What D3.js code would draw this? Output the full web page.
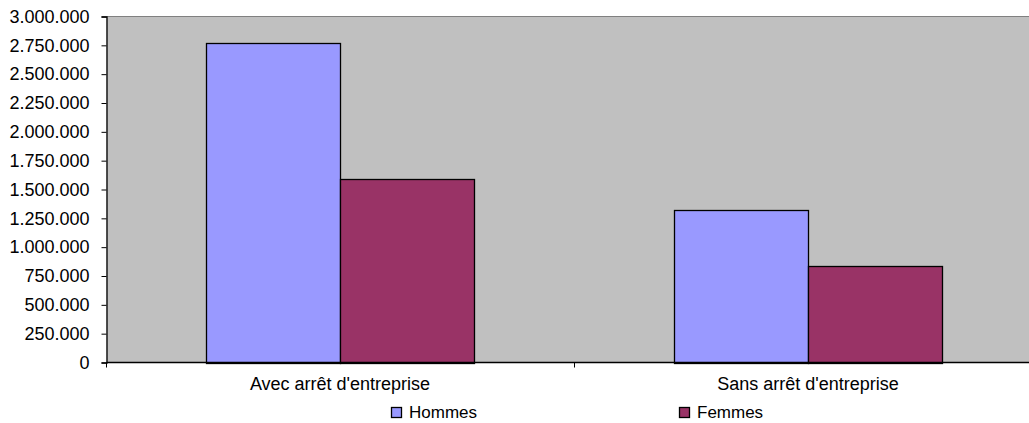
<!DOCTYPE html>
<html><head><meta charset="utf-8">
<script src="https://cdn.jsdelivr.net/npm/d3@7"></script>
<style>body{margin:0;background:#fff}svg{display:block}text{font-family:"Liberation Sans",Arial,sans-serif;fill:#000}</style>
</head><body><svg id="c" width="1029" height="423"></svg>
<script>
const categories = ["Avec arrêt d'entreprise", "Sans arrêt d'entreprise"];
const seriesNames = ["Hommes", "Femmes"];
const hommes = [2770000, 1325000];
const femmes = [1595000, 835000];
const yTicks = [0,250000,500000,750000,1000000,1250000,1500000,1750000,2000000,2250000,2500000,2750000,3000000];
const colors = ["#9999FF", "#993366"];

const svg = d3.select("#c");
const L = 106.5, R = 1042, T = 16.5, B = 362.5;
const fs = 18, fsLeg = 17;
const loc = d3.formatLocale({decimal:",", thousands:".", grouping:[3], currency:["","€"]});
const fmt = loc.format(",d");

const x = d3.scaleBand().domain(categories).range([L - 0.5, R]).paddingInner(200/468).paddingOuter(100/468);
const xs = d3.scaleBand().domain(seriesNames).range([0, x.bandwidth()]);
const y = d3.scaleLinear().domain([0, 3000000]).range([B, T]);

svg.append("rect").attr("x", L).attr("y", T).attr("width", R - L).attr("height", B - T).attr("fill", "#C0C0C0");
svg.append("line").attr("x1", L).attr("x2", R).attr("y1", T).attr("y2", T).attr("stroke", "#808080");

const data = [hommes, femmes];
categories.forEach((c, i) => {
  seriesNames.forEach((s, j) => {
    const v = data[j][i];
    svg.append("rect")
      .attr("x", Math.round(x(c) + xs(s)) + 0.5)
      .attr("y", Math.round(y(v)) + 0.5)
      .attr("width", Math.round(xs.bandwidth()))
      .attr("height", Math.round(B) - Math.round(y(v)))
      .attr("fill", colors[j]).attr("stroke", "#000").attr("stroke-width", 1.3);
  });
});

// y axis
const ya = svg.append("g").attr("transform", `translate(${L},0)`)
  .call(d3.axisLeft(y).tickValues(yTicks).tickFormat(fmt).tickSize(5).tickPadding(12));
ya.select(".domain").attr("stroke", "#000").attr("stroke-width", 1.3);
ya.selectAll(".tick line").attr("stroke", "#000");
ya.selectAll("text").attr("font-size", fs).attr("font-family", '"Liberation Sans",Arial,sans-serif').attr("fill", "#000");

// x axis
const xa = svg.append("g").attr("transform", `translate(0,${B})`)
  .call(d3.axisBottom(x).tickSize(0).tickPadding(15));
xa.select(".domain").attr("d", `M${L},0H${R}`).attr("stroke", "#000").attr("stroke-width", 1.5);
xa.selectAll("text").attr("font-size", fs).attr("font-family", '"Liberation Sans",Arial,sans-serif').attr("fill", "#000");
// category boundary ticks
const bounds = [x(categories[0]) - x.step()*x.paddingOuter(), x(categories[1]) - x.step()*x.paddingInner()/2];
bounds.forEach(b => {
  xa.append("line").attr("x1", Math.round(b)+0.5).attr("x2", Math.round(b)+0.5).attr("y1", 0).attr("y2", 5).attr("stroke", "#000");
});

// legend
const legX = [391, 679];
seriesNames.forEach((s, j) => {
  const g = svg.append("g").attr("transform", `translate(${legX[j]},0)`);
  g.append("rect").attr("x", 0.5).attr("y", 407.5).attr("width", 10).attr("height", 10)
    .attr("fill", colors[j]).attr("stroke", "#000").attr("stroke-width", 1.3);
  g.append("text").attr("x", 18).attr("y", 418).attr("font-size", fsLeg).text(s);
});
</script></body></html>
